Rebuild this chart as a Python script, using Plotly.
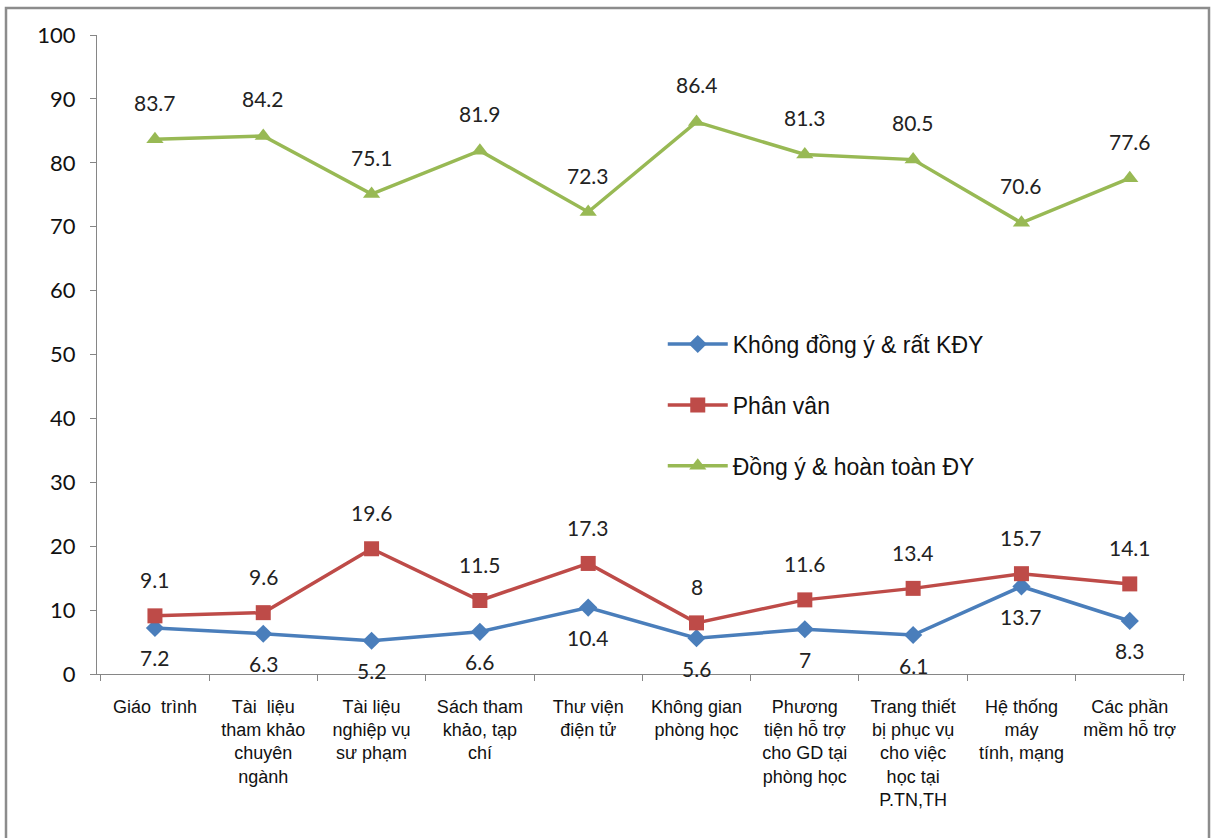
import plotly.graph_objects as go

categories = [
    "Giáo\u00a0\u00a0trình",
    "Tài\u00a0\u00a0liệu<br>tham khảo<br>chuyên<br>ngành",
    "Tài liệu<br>nghiệp vụ<br>sư phạm",
    "Sách tham<br>khảo, tạp<br>chí",
    "Thư viện<br>điện tử",
    "Không gian<br>phòng học",
    "Phương<br>tiện hỗ trợ<br>cho GD tại<br>phòng học",
    "Trang thiết<br>bị phục vụ<br>cho việc<br>học tại<br>P.TN,TH",
    "Hệ thống<br>máy<br>tính, mạng",
    "Các phần<br>mềm hỗ trợ",
]
khong_dong_y = [7.2, 6.3, 5.2, 6.6, 10.4, 5.6, 7, 6.1, 13.7, 8.3]
phan_van = [9.1, 9.6, 19.6, 11.5, 17.3, 8, 11.6, 13.4, 15.7, 14.1]
dong_y = [83.7, 84.2, 75.1, 81.9, 72.3, 86.4, 81.3, 80.5, 70.6, 77.6]

series = [
    ("Không đồng ý & rất KĐY", khong_dong_y, "#4A7EBB", "diamond", -30),
    ("Phân vân", phan_van, "#BE4B48", "square", 36),
    ("Đồng ý & hoàn toàn ĐY", dong_y, "#98B954", "triangle-up", 37),
]

fig = go.Figure()
annotations = []
for i, (name, vals, color, symbol, shift) in enumerate(series):
    fig.add_trace(go.Scatter(
        x=categories, y=vals, name=name, mode="lines+markers",
        line=dict(color=color, width=3.5),
        marker=dict(symbol=symbol, size=15 if symbol != "diamond" else 14, color=color),
        legendgroup=str(i),
    ))
    for c, v in zip(categories, vals):
        annotations.append(dict(
            x=c, y=v, text=f"{v:g}", showarrow=False, yshift=shift,
            font=dict(family="Lato, Liberation Sans", size=21, color="#222"),
        ))

# outer chart border (page body margin removed below, so pixels are page pixels)
l, r, t, b = 97, 27, 35, 164
W, H = 1212, 838
pw, ph = W - l - r, H - t - b
fig.add_shape(
    type="rect", xref="paper", yref="paper",
    x0=(6 - l) / pw, x1=(1209 - l) / pw,
    y0=(674 - 850) / ph, y1=(674 - 8) / ph,
    line=dict(color="#8C8C8C", width=2.5), fillcolor="rgba(0,0,0,0)", layer="above",
)

fig.update_layout(
    width=W, height=H,
    margin=dict(l=l, r=r, t=t, b=b),
    paper_bgcolor="white", plot_bgcolor="white",
    annotations=annotations,
    showlegend=True,
    legend=dict(
        x=0.52, y=0.55, xanchor="left", yanchor="top",
        font=dict(family="Liberation Sans, Arial", size=23, color="#111"),
        tracegroupgap=28, bgcolor="rgba(0,0,0,0)", itemwidth=60,
    ),
    xaxis=dict(
        type="category", range=[-0.535, 9.51],
        showline=True, linecolor="#868686", linewidth=1,
        ticks="outside", tickson="boundaries", ticklen=6, tickcolor="#868686",
        showgrid=False, ticklabelstandoff=16,
        tickfont=dict(family="Liberation Sans, Arial", size=18, color="#111"),
    ),
    yaxis=dict(
        range=[0, 100], dtick=10, showline=True, linecolor="#868686", linewidth=1,
        ticks="outside", ticklen=6, tickcolor="#868686", showgrid=False,
        zeroline=False, ticklabelstandoff=10,
        tickfont=dict(family="Lato, Liberation Sans", size=22, color="#111"),
    ),
)

fig.write_html(
    "out.html",
    config={"displayModeBar": False},
    post_script="document.body.style.margin='0';",
)
